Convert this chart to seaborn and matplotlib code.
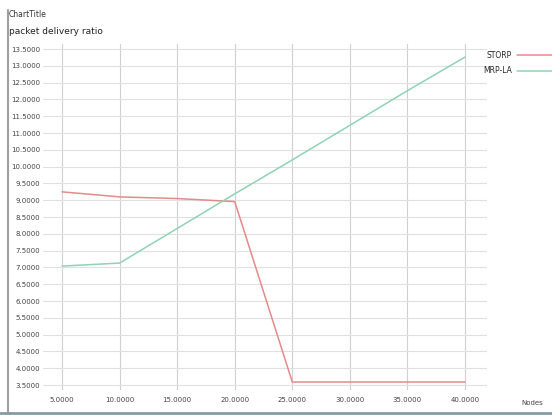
import matplotlib
matplotlib.use("Agg")
import matplotlib.pyplot as plt
import seaborn as sns
import pandas as pd
from matplotlib.lines import Line2D

sns.set_theme(style="white")
plt.rcParams["font.family"] = ["DejaVu Sans"]

# Simulation results
x_values = [5, 10, 15, 20, 25, 30, 35, 40]
storp = [9.25, 9.10, 9.05, 8.96, 3.59, 3.59, 3.59, 3.59]
mrp_la = [7.04, 7.13, 8.16, 9.19, 10.20, 11.23, 12.26, 13.26]
series_names = ["STORP", "MRP-LA"]
series_colors = ["#e58a8a", "#8fd3b4"]

y_ticks = [3.5 + 0.5 * i for i in range(21)]
x_ticks = x_values

df = pd.DataFrame({
    "x": x_values * 2,
    "value": storp + mrp_la,
    "series": [series_names[0]] * len(x_values) + [series_names[1]] * len(x_values),
})

fig = plt.figure(figsize=(5.52, 4.15), dpi=100)
ax = fig.add_axes([0.078, 0.06, 0.804, 0.834])

sns.lineplot(data=df, x="x", y="value", hue="series", palette=series_colors,
             hue_order=series_names, linewidth=1.1, ax=ax, legend=False)

ax.set_xlim(3.35, 41.9)
ax.set_ylim(3.35, 13.65)
ax.set_xticks(x_ticks)
ax.set_yticks(y_ticks)
ax.set_xticklabels([f"{v:.4f}" for v in x_ticks], fontsize=5, color="#444444")
ax.set_yticklabels([f"{v:.4f}" for v in y_ticks], fontsize=5, color="#444444")
ax.tick_params(axis="both", length=0, pad=2)
ax.tick_params(axis="x", pad=5)
ax.grid(True, axis="y", color="#e0e0e0", linewidth=0.8)
ax.grid(True, axis="x", color="#d0d0d0", linewidth=0.8)
ax.set_axisbelow(True)
for s in ax.spines.values():
    s.set_visible(False)
ax.set_xlabel("")
ax.set_ylabel("")

handles = [Line2D([], [], color=c, linewidth=1.1) for c in series_colors]
ax.legend(handles, series_names, markerfirst=False, frameon=False,
          loc="upper left", bbox_to_anchor=(0.985, 0.99), fontsize=5.5,
          handlelength=5.5, handletextpad=0.6, labelspacing=0.9,
          borderaxespad=0)

fig.text(0.016, 0.965, "ChartTitle", fontsize=5.5, color="#333333", va="center")
fig.text(0.016, 0.923, "packet delivery ratio", fontsize=6.5, color="#222222", va="center")
fig.text(0.945, 0.028, "Nodes", fontsize=5, color="#444444", va="center")

# window frame
fig.add_artist(Line2D([0.0145, 0.0145], [0.005, 0.975], color="#a0a0a0", linewidth=1.5, transform=fig.transFigure))
fig.add_artist(Line2D([0.0, 1.0], [0.005, 0.005], color="#8a9aa0", linewidth=2, transform=fig.transFigure))

fig.savefig("out.png", dpi=100)
